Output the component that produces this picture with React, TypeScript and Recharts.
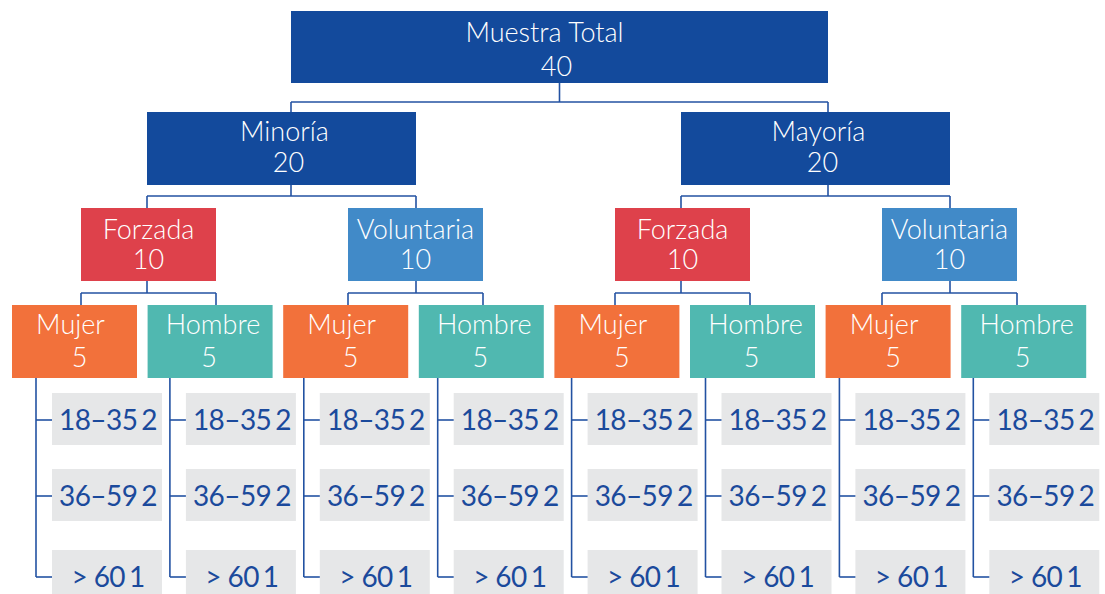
import React from "react";
import { ComposedChart, XAxis, YAxis, ReferenceArea, ReferenceLine } from "recharts";

const W = 1105;
const H = 594;

// ---- data ----
const rootLabel = "Muestra Total";
const rootCount = 40;
const groupLabels = ["Minoría", "Mayoría"];
const groupCounts = [20, 20];
const typeLabels = ["Forzada", "Voluntaria"];
const typeCounts = [10, 10];
const sexLabels = ["Mujer", "Hombre"];
const sexCounts = [5, 5];
const ageLabels = ["18–35", "36–59", "> 60"];
const ageCounts = [2, 2, 1];

// ---- style ----
const FONT = "Lato, 'Open Sans', sans-serif";
const LINE = "#2352A2";
const fillFor: Record<string, string> = {
  root: "#134A9C",
  group: "#134A9C",
  Forzada: "#DE414B",
  Voluntaria: "#418AC8",
  Mujer: "#F2713B",
  Hombre: "#50B8B0",
};
const AGE_FILL = "#E6E7E8";
const AGE_TEXT = "#1B4A9C";

// ---- layout ----
const rows = [
  { top: 11, h: 72 },
  { top: 112, h: 73 },
  { top: 208, h: 73 },
  { top: 305, h: 73 },
];
const busY = [102, 196, 293];
const levelLeft = [
  (i: number) => 291,
  (i: number) => 147 + i * 534,
  (i: number) => 81 + i * 267,
  (i: number) => 12 + i * 135.6,
];
const levelWidth = [537, 269, 135, 125];
// text baseline offsets from box centre, per level: [line1, line2]
const lineDy = [
  [-5, 29],
  [-8, 23],
  [-5.5, 24.5],
  [-8, 25],
];
// small horizontal shifts of each text line, per level (and per sex at the leaves)
const lineDx = (level: number, label: string): [number, number] => {
  if (level === 0) return [-15, -3];
  if (level === 1) return [3, 7];
  if (level === 3) return label === sexLabels[0] ? [-4, 5] : [3, -1];
  return [0, 0];
};
const ageBoxLeft = (i: number) => 52 + i * 133.9;
const ageBoxW = 110;
const ageBoxH = 52;
const ageTops = [393, 469, 550];

type Node = {
  label: string;
  count: number;
  fill: string;
  level: number;
  left: number;
  right: number;
  top: number;
  bottom: number;
  stemX: number;
};

function buildNodes(): Node[] {
  const nodes: Node[] = [];
  const mk = (level: number, idx: number, label: string, count: number, fill: string, stemX: number | null): Node => {
    const left = levelLeft[level](idx);
    const right = left + levelWidth[level];
    return {
      label,
      count,
      fill,
      level,
      left,
      right,
      top: rows[level].top,
      bottom: rows[level].top + rows[level].h,
      stemX: stemX === null ? (left + right) / 2 : stemX,
    };
  };
  const root = mk(0, 0, rootLabel, rootCount, fillFor.root, null);
  nodes.push(root);
  groupLabels.forEach((g, k) => {
    const gn = mk(1, k, g, groupCounts[k], fillFor.group, k === 0 ? root.left : root.right);
    nodes.push(gn);
    typeLabels.forEach((t, j) => {
      const ti = k * 2 + j;
      const tn = mk(2, ti, t, typeCounts[j], fillFor[t], j === 0 ? gn.left : gn.right);
      nodes.push(tn);
      sexLabels.forEach((s, m) => {
        const si = ti * 2 + m;
        nodes.push(mk(3, si, s, sexCounts[m], fillFor[s], m === 0 ? tn.left : tn.right));
      });
    });
  });
  return nodes;
}

const nodes = buildNodes();
const leaves = nodes.filter((n) => n.level === 3);

type Seg = [{ x: number; y: number }, { x: number; y: number }];
const segments: Seg[] = [];
nodes.forEach((n) => {
  if (n.level < 3) {
    const by = busY[n.level];
    const childTop = rows[n.level + 1].top;
    segments.push([{ x: n.stemX, y: n.bottom }, { x: n.stemX, y: by }]);
    segments.push([{ x: n.left, y: by }, { x: n.right, y: by }]);
    segments.push([{ x: n.left, y: by }, { x: n.left, y: childTop }]);
    segments.push([{ x: n.right, y: by }, { x: n.right, y: childTop }]);
  }
});
leaves.forEach((lf, i) => {
  const bx = ageBoxLeft(i);
  const vx = bx - 16;
  const lastY = ageTops[ageTops.length - 1] + ageBoxH / 2 + 1;
  segments.push([{ x: vx, y: lf.bottom }, { x: vx, y: lastY }]);
  ageTops.forEach((t) => {
    const ty = t + ageBoxH / 2 + 1;
    segments.push([{ x: vx, y: ty }, { x: bx, y: ty }]);
  });
});

const BoxLabel = (props: any) => {
  const vb = props.viewBox || {};
  const cx = vb.x + vb.width / 2;
  const cy = vb.y + vb.height / 2;
  const dy = lineDy[props.level];
  const dx = lineDx(props.level, props.label1);
  return (
    <text textAnchor="middle" fill="#FFFFFF" fontFamily={FONT} fontSize={27} fontWeight={300}>
      <tspan x={cx + dx[0]} y={cy + dy[0]}>{props.label1}</tspan>
      <tspan x={cx + dx[1]} y={cy + dy[1]}>{props.label2}</tspan>
    </text>
  );
};

const AgeLabel = (props: any) => {
  const vb = props.viewBox || {};
  const cx = vb.x + vb.width / 2 + 1;
  const cy = vb.y + vb.height / 2;
  return (
    <text x={cx} y={cy + 10.5} textAnchor="middle" fill={AGE_TEXT} fontFamily={FONT} fontSize={28} letterSpacing={-0.6}>
      {props.range}
      <tspan dx={4}>{props.count}</tspan>
    </text>
  );
};

export default function App() {
  return (
    <div style={{ position: "absolute", left: 0, top: 0, width: W, height: H, background: "#fff" }}>
      <ComposedChart width={W} height={H} margin={{ top: 0, right: 0, bottom: 0, left: 0 }} data={[{ x: 0, y: 0 }]}>
        <XAxis type="number" dataKey="x" domain={[0, W]} hide allowDataOverflow />
        <YAxis type="number" dataKey="y" domain={[0, H]} reversed hide allowDataOverflow />
        {segments.map((s, i) => (
          <ReferenceLine key={"s" + i} segment={s} stroke={LINE} strokeWidth={1.6} ifOverflow="visible" />
        ))}
        {nodes.map((n, i) => (
          <ReferenceArea
            key={"n" + i}
            x1={n.left}
            x2={n.right}
            y1={n.top}
            y2={n.bottom}
            fill={n.fill}
            fillOpacity={1}
            stroke="none"
            ifOverflow="visible"
            label={(p: any) => <BoxLabel {...p} level={n.level} label1={n.label} label2={n.count} />}
          />
        ))}
        {leaves.map((lf, i) =>
          ageTops.map((t, r) => (
            <ReferenceArea
              key={"a" + i + "-" + r}
              x1={ageBoxLeft(i)}
              x2={ageBoxLeft(i) + ageBoxW}
              y1={t}
              y2={t + ageBoxH}
              fill={AGE_FILL}
              fillOpacity={1}
              stroke="none"
              ifOverflow="visible"
              label={(p: any) => <AgeLabel {...p} range={ageLabels[r]} count={ageCounts[r]} />}
            />
          ))
        )}
      </ComposedChart>
    </div>
  );
}
